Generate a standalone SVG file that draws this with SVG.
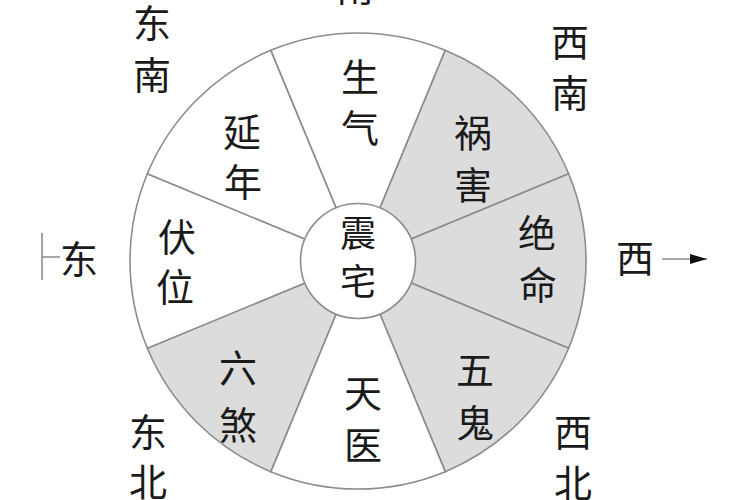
<svg xmlns="http://www.w3.org/2000/svg" width="750" height="500" viewBox="0 0 750 500">
<style>
text{font-family:"Noto Sans CJK SC","Noto Sans CJK TC",sans-serif;font-size:38px;fill:#1a1a1a;text-anchor:middle}
.c{font-size:36px}
.sec{stroke:#8c8c8c;stroke-width:1.6}
.w{fill:#ffffff}
.g{fill:#dcdcdc}
.ln{stroke:#8c8c8c;stroke-width:1.6;fill:none}
</style>
<defs>
<marker id="ah" viewBox="0 0 10 10" refX="10" refY="5" markerWidth="17" markerHeight="10" markerUnits="userSpaceOnUse" orient="auto" preserveAspectRatio="none">
<path d="M0,0 L10,5 L0,10 Z" fill="#111"/>
</marker>
</defs>
<rect width="750" height="500" fill="#ffffff"/>
<g id="sector-shengqi">
<path class="sec w" d="M358,261 L270.75,50.36 A228,228 0 0 1 445.25,50.36 Z"/>
<text x="360" y="91">生</text><text x="360" y="142">气</text>
</g>
<g id="sector-huohai">
<path class="sec g" d="M358,261 L445.25,50.36 A228,228 0 0 1 568.64,173.75 Z"/>
<text x="473" y="147">祸</text><text x="473" y="199">害</text>
</g>
<g id="sector-jueming">
<path class="sec g" d="M358,261 L568.64,173.75 A228,228 0 0 1 568.64,348.25 Z"/>
<text x="537" y="247">绝</text><text x="538" y="299">命</text>
</g>
<g id="sector-wugui">
<path class="sec g" d="M358,261 L568.64,348.25 A228,228 0 0 1 445.25,471.64 Z"/>
<text x="475" y="384">五</text><text x="475" y="437">鬼</text>
</g>
<g id="sector-tianyi">
<path class="sec w" d="M358,261 L445.25,471.64 A228,228 0 0 1 270.75,471.64 Z"/>
<text x="363" y="407">天</text><text x="363" y="459">医</text>
</g>
<g id="sector-liusha">
<path class="sec g" d="M358,261 L270.75,471.64 A228,228 0 0 1 147.36,348.25 Z"/>
<text x="238" y="382">六</text><text x="238" y="439">煞</text>
</g>
<g id="sector-fuwei">
<path class="sec w" d="M358,261 L147.36,348.25 A228,228 0 0 1 147.36,173.75 Z"/>
<text x="177" y="251">伏</text><text x="175" y="301">位</text>
</g>
<g id="sector-yannian">
<path class="sec w" d="M358,261 L147.36,173.75 A228,228 0 0 1 270.75,50.36 Z"/>
<text x="242" y="146">延</text><text x="243" y="196">年</text>
</g>
<g id="center-zhenzhai">
<circle class="sec w" cx="358" cy="261" r="57.5"/>
<text class="c" x="358" y="247">震</text><text class="c" x="358" y="295">宅</text>
</g>
<g id="label-south"><text x="355" y="1">南</text></g>
<g id="label-southeast"><text x="152" y="37">东</text><text x="152" y="89">南</text></g>
<g id="label-southwest"><text x="570" y="56">西</text><text x="570" y="107">南</text></g>
<g id="label-northeast"><text x="148" y="446">东</text><text x="148" y="496">北</text></g>
<g id="label-northwest"><text x="573" y="446">西</text><text x="573" y="497">北</text></g>
<g id="label-east"><text x="79" y="273">东</text></g>
<g id="label-west"><text x="635" y="272">西</text></g>
<g id="connectors">
<path class="ln" d="M42,233 V280 M42,257 H60"/>
<line class="ln" x1="662" y1="259" x2="707" y2="259" marker-end="url(#ah)"/>
</g>
</svg>
